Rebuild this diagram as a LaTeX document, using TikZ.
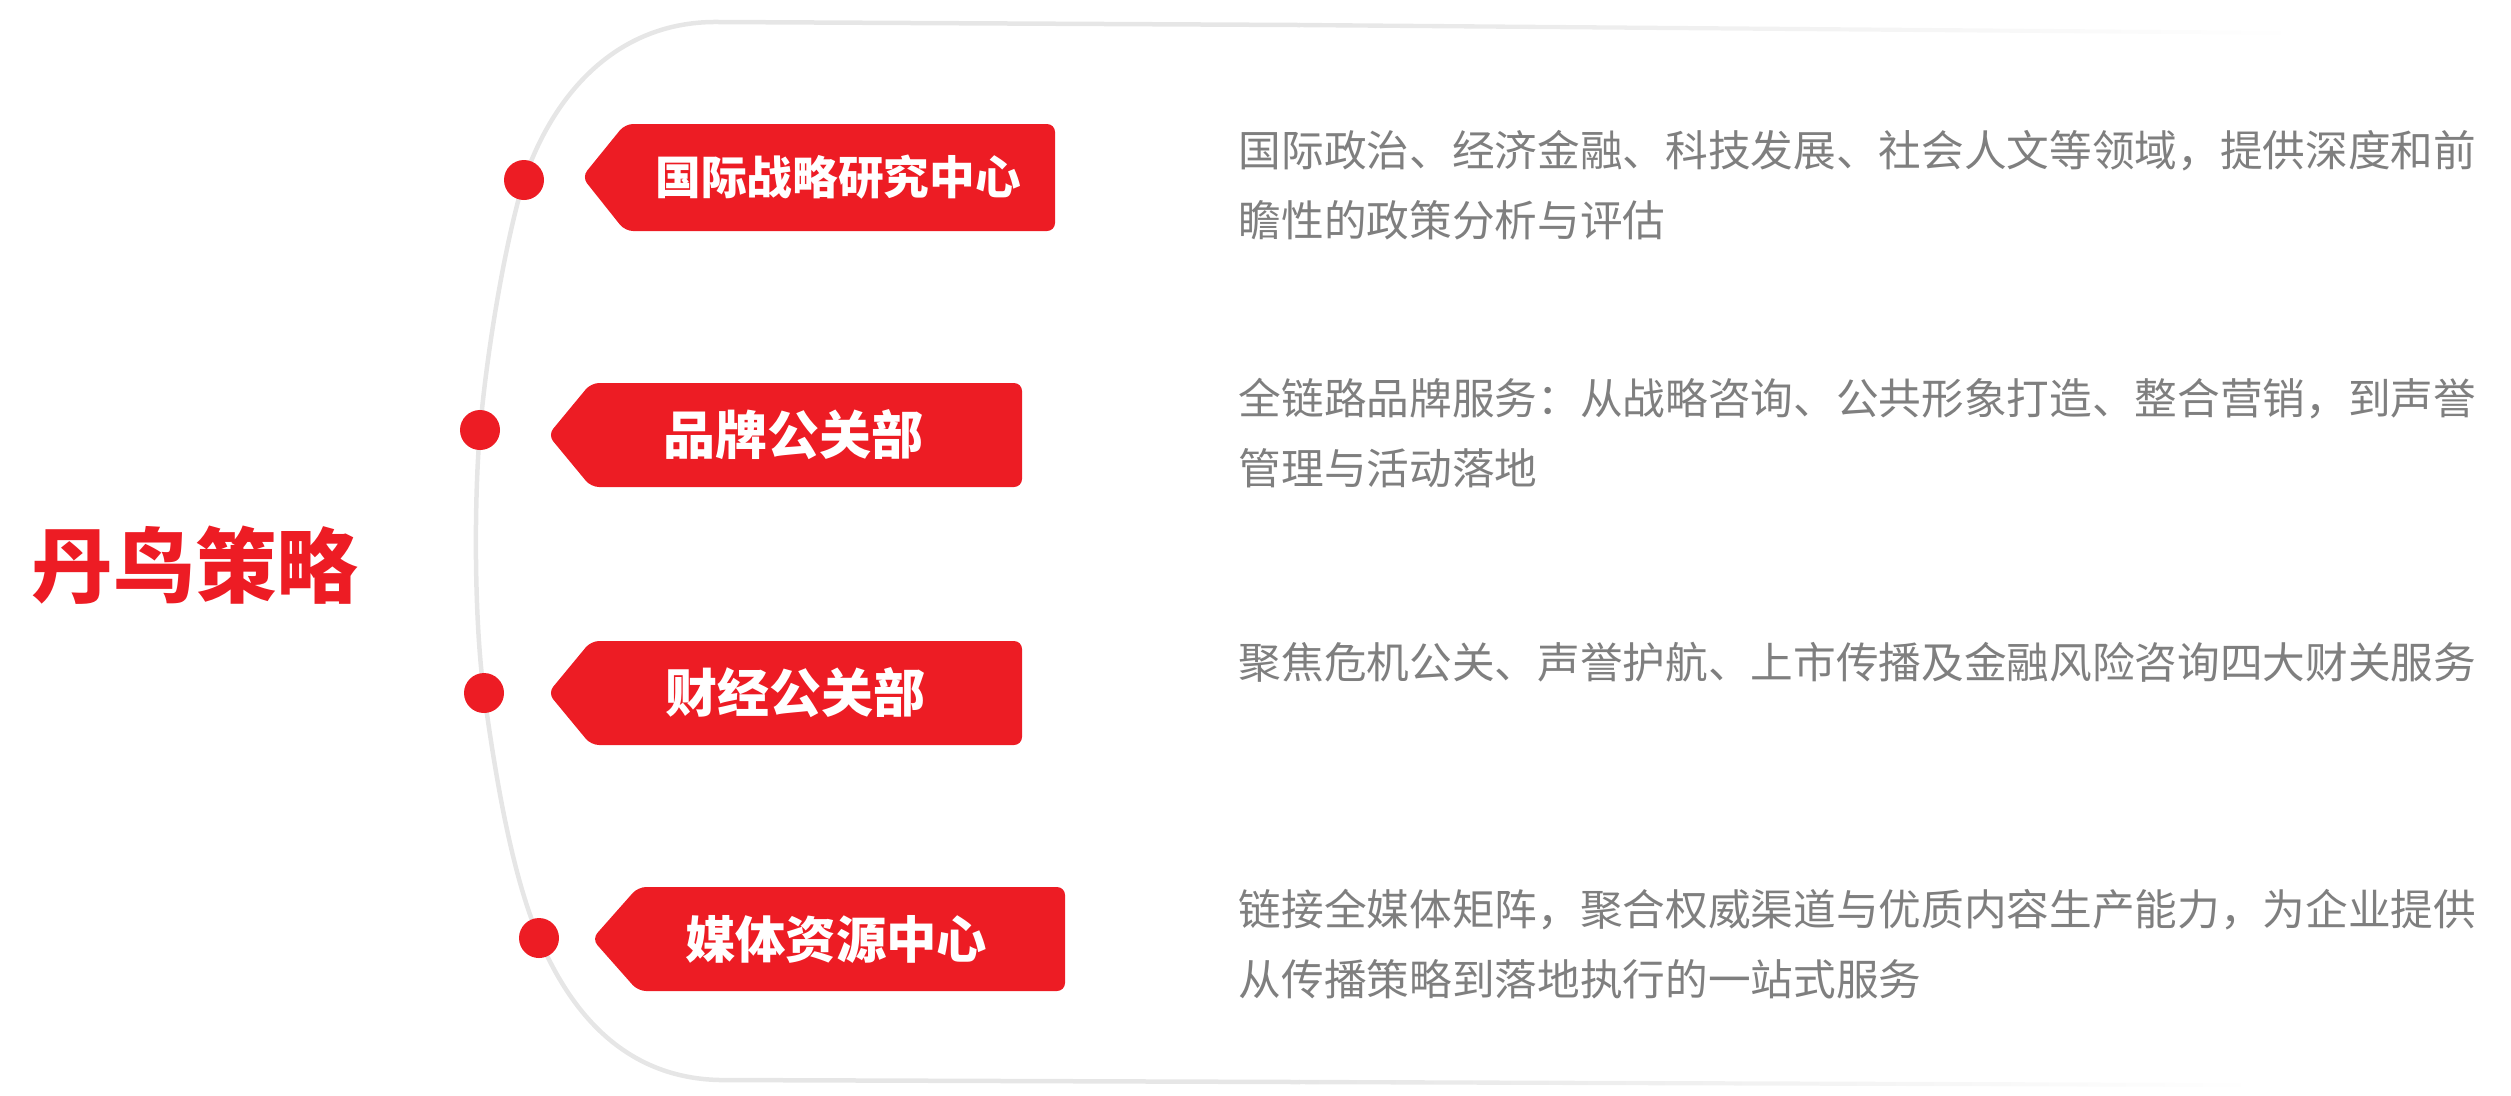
\documentclass[tikz,border=0pt]{standalone}
\usepackage{fontspec}
\setmainfont{Noto Sans CJK SC}
\usepackage{tikz}
\usepackage{xcolor}
\definecolor{tagred}{HTML}{ED1C24}
\definecolor{descgray}{HTML}{7F7F7F}
\definecolor{linegray}{HTML}{E6E6E6}
\tikzset{
  dot/.style={circle, fill=tagred, inner sep=0pt, minimum size=12pt},
  tagtext/.style={text=white, inner sep=0pt},
  desc/.style={text=descgray, inner sep=0pt, anchor=west, align=left, font=\fontsize{12.8pt}{21pt}\selectfont},
  tagshape/.style={fill=tagred, rounded corners=2.4pt}
}

\begin{document}
\begin{tikzpicture}[x=0.3pt,y=0.3pt,yscale=-1,xscale=1]
\useasboundingbox (0,0) rectangle (2511,1095);

% bracket line
\draw[linegray, line width=1.35pt]  (1300,25) -- (720,22) .. controls (620,20) and (555,90) .. (524,180) .. controls (503,250) and (486,360) .. (480,430) .. controls (474,500) and (474,620) .. (484,693) .. controls (494,765) and (510,870) .. (539,938) .. controls (568,1006) and (620,1078) .. (720,1080) -- (1300,1082) ;
\shade[left color=linegray, right color=white] (1299,22.8) -- (2300,31) -- (2300,35) -- (1299,27.2) -- cycle;
\shade[left color=linegray, right color=white] (1299,1079.8) -- (2260,1083) -- (2260,1087) -- (1299,1084.2) -- cycle;

% title
\node[text=tagred, inner sep=0pt, font=\fontsize{24.5pt}{28pt}\selectfont\bfseries] (title) at (195,565) {丹鸟策略};

% dots
\node[dot] (d1) at (524,180) {};
\node[dot] (d2) at (480,430) {};
\node[dot] (d3) at (484,693) {};
\node[dot] (d4) at (539,938) {};

% tags
\fill[tagshape] (582,177) -- (625,124) -- (1055,124) -- (1055,231) -- (625,231) -- cycle;
\fill[tagshape] (548,435) -- (591,383) -- (1022,383) -- (1022,487) -- (591,487) -- cycle;
\fill[tagshape] (548,693) -- (591,641) -- (1022,641) -- (1022,745) -- (591,745) -- cycle;
\fill[tagshape] (592,939) -- (638,887) -- (1065,887) -- (1065,991) -- (638,991) -- cycle;
\node[tagtext, font=\fontsize{13.7pt}{16pt}\selectfont\bfseries] (intl) at (838,177) {国际战略研究中心};
\node[tagtext, font=\fontsize{15.6pt}{18pt}\selectfont\bfseries] (brand) at (793,435) {品牌公关部};
\node[tagtext, font=\fontsize{15.6pt}{18pt}\selectfont\bfseries] (fin) at (795,693) {财经公关部};
\node[tagtext, font=\fontsize{15.1pt}{18pt}\selectfont\bfseries] (media) at (836,939) {媒体资源中心};

% descriptions
\node[desc] (intldesc) at (1238,185) {国际政治、经济金融、科技发展、社会人文等领域，提供深度和前\\瞻性的政策分析与评估};
\node[desc] (branddesc) at (1238,433) {全链路品牌服务：从战略咨询、公共形象打造、整合营销，到声誉\\管理与活动落地};
\node[desc] (findesc) at (1238,662) {聚焦危机公关、声誉护航、上市传播及金融风险咨询四大财关服务};
\node[desc] (mediadesc) at (1238,944) {链接全媒体矩阵，聚合权威渠道与优质内容生产能力，为企业提供\\从传播策略到落地执行的一站式服务};

\end{tikzpicture}
\end{document}
